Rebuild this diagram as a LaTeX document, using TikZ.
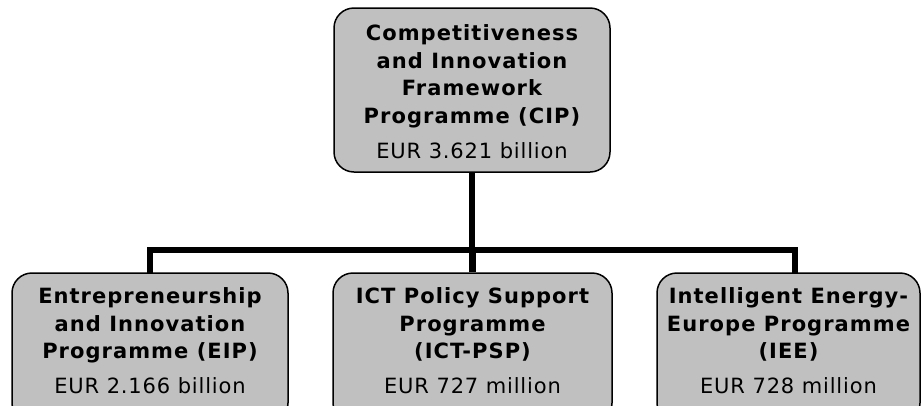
\documentclass[tikz,border=0pt]{standalone}
\usepackage{fontspec}
\setmainfont{DejaVu Sans}[LetterSpace=4,BoldFeatures={LetterSpace=5}]
\begin{document}
\begin{tikzpicture}[x=1pt,y=-1pt,
  box/.style={draw=black,line width=1.5pt,fill=boxgray,rounded corners=20pt,inner sep=0pt},
  ttl/.style={anchor=base,font=\bfseries\fontsize{21}{27}\selectfont,align=center,inner sep=0pt},
  amt/.style={anchor=base,font=\fontsize{21}{27}\selectfont,inner sep=0pt},
  conn/.style={line width=6.5pt,line join=miter,line cap=butt}]
\definecolor{boxgray}{HTML}{C0C0C0}
\clip (0,0) rectangle (922,405);
\fill[white] (0,0) rectangle (922,405);
% boxes
\node[box,minimum width=276pt,minimum height=164pt] (cip) at (472,90) {};
\node[box,minimum width=276pt,minimum height=150pt] (eip) at (150,348) {};
\node[box,minimum width=279pt,minimum height=150pt] (psp) at (472.5,348) {};
\node[box,minimum width=263pt,minimum height=150pt] (iee) at (788.5,348) {};
% connectors
\coordinate (bar) at (0,250);
\coordinate (eiptop) at (150,273);
\coordinate (ieetop) at (795,273);
\draw[conn] (cip.south) -- (cip.south |- bar);
\draw[conn] (psp.north) -- (psp.north |- bar);
\draw[conn] (eiptop) -- (eiptop |- bar) -- (ieetop |- bar) -- (ieetop);
% texts
\node[ttl] (t1) at (472,40) {Competitiveness};
\node[ttl] (t2) at (472,68) {and Innovation};
\node[ttl] (t3) at (472,95) {Framework};
\node[ttl] (t4) at (472,123) {Programme (CIP)};
\node[amt] (a1) at (472,158) {EUR 3.621 billion};
\node[ttl] (e1) at (150,303) {Entrepreneurship};
\node[ttl] (e2) at (150,331) {and Innovation};
\node[ttl] (e3) at (150,358) {Programme (EIP)};
\node[amt] (a2) at (150,393) {EUR 2.166 billion};
\node[ttl] (p1) at (472.5,303) {ICT Policy Support};
\node[ttl] (p2) at (472.5,331) {Programme};
\node[ttl] (p3) at (472.5,358) {(ICT-PSP)};
\node[amt] (a3) at (472.5,393) {EUR 727 million};
\node[ttl] (i1) at (788.5,303) {Intelligent Energy-};
\node[ttl] (i2) at (788.5,331) {Europe Programme};
\node[ttl] (i3) at (788.5,358) {(IEE)};
\node[amt] (a4) at (788.5,393) {EUR 728 million};
\end{tikzpicture}
\end{document}
